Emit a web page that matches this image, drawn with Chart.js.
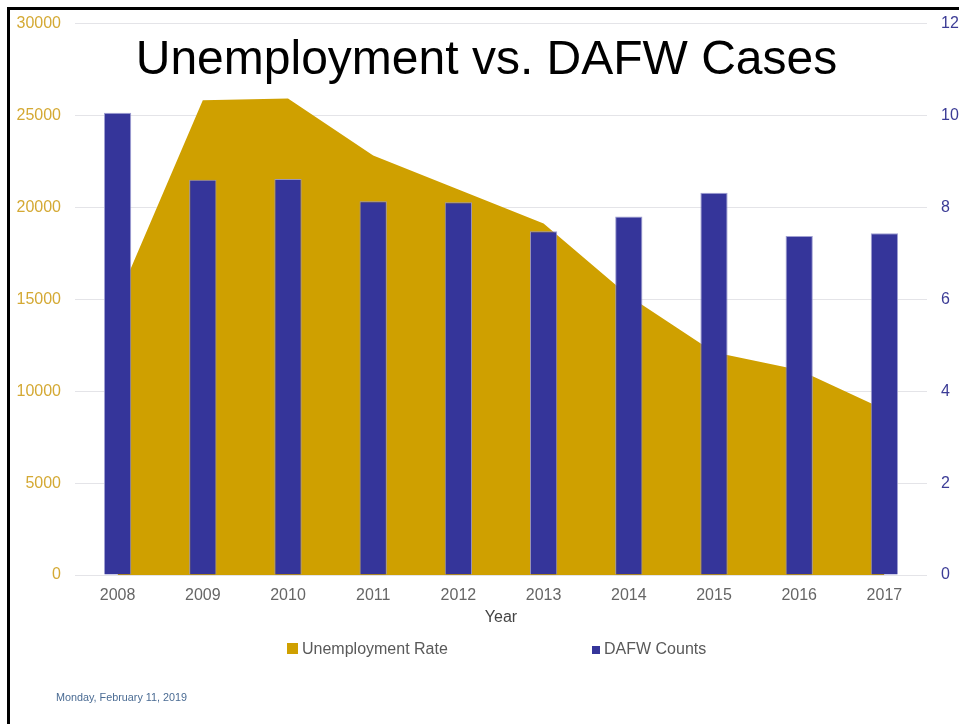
<!DOCTYPE html>
<html>
<head>
<meta charset="utf-8">
<script src="https://cdn.jsdelivr.net/npm/chart.js@4.4.1/dist/chart.umd.min.js"></script>
<style>
  html, body { margin: 0; padding: 0; background: #fff; overflow: hidden; }
  #wrap { position: relative; width: 959px; height: 724px; font-family: "Liberation Sans", Arial, sans-serif; }
  #chart-box { position: absolute; left: 0; top: 0; width: 959px; height: 724px; }
  #frame { position: absolute; left: 7px; top: 7px; width: 1000px; height: 1000px;
           border-left: 3px solid #000; border-top: 3px solid #000; }
  #title { position: absolute; left: 0; top: 34px; width: 973px; text-align: center;
           font-size: 48px; line-height: 48px; color: #000; }
  #date { position: absolute; left: 56px; top: 692px; font-size: 10.8px; line-height: 10.8px; color: #4a6b93; }
  .legend-item { position: absolute; top: 641px; font-size: 16px; line-height: 16px; color: #595959; white-space: nowrap; }
  .legend-box { position: absolute; }
</style>
</head>
<body>
<div id="wrap">
  <div id="chart-box"><canvas id="chart"></canvas></div>
  <div id="frame"></div>
  <div id="title">Unemployment vs. DAFW Cases</div>
  <div id="legend"></div>
  <div id="date">Monday, February 11, 2019</div>
</div>
<script>
// Données
const years = ['2008', '2009', '2010', '2011', '2012', '2013', '2014', '2015', '2016', '2017'];
const unemploymentRate = [6.0, 10.33, 10.37, 9.13, 8.39, 7.65, 6.07, 4.85, 4.46, 3.6];
const dafwCounts = [25150, 21500, 21550, 20330, 20280, 18700, 19500, 20800, 18450, 18600];

// Axes
const countsMax = 30000;
const countsStep = 5000;
const rateMax = 12;
const rateStep = 2;

const gold = '#cfa000';
const navy = '#35359a';

const ctx = document.getElementById('chart').getContext('2d');
const chart = new Chart(ctx, {
    type: 'bar',
    data: {
        labels: years,
        datasets: [{
            type: 'line',
            label: 'Unemployment Rate',
            data: unemploymentRate,
            yAxisID: 'y1',
            backgroundColor: gold,
            borderColor: gold,
            borderWidth: 0,
            pointRadius: 0,
            tension: 0,
            fill: 'origin',
            order: 2
        }, {
            label: 'DAFW Counts',
            data: dafwCounts,
            yAxisID: 'y',
            backgroundColor: navy,
            borderColor: 'rgba(150, 150, 205, 0.9)',
            borderWidth: 1,
            barPercentage: 0.32,
            categoryPercentage: 1.0,
            order: 1
        }]
    },
    options: {
        responsive: true,
        maintainAspectRatio: false,
        animation: false,
        layout: {
            padding: { left: 17, right: 0, top: 23, bottom: 97 }
        },
        scales: {
            x: {
                grid: { display: false, drawTicks: false },
                border: { display: false },
                ticks: {
                    color: '#666666',
                    font: { family: 'Liberation Sans', size: 16 },
                    padding: 11
                },
                title: {
                    display: true,
                    text: 'Year',
                    color: '#444444',
                    font: { family: 'Liberation Sans', size: 16 },
                    padding: { top: 4, bottom: 0 }
                },
                afterFit: scale => { scale.height = 52; }
            },
            y: {
                position: 'left',
                min: 0,
                max: countsMax,
                grid: { color: '#e4e4e8', drawTicks: false },
                border: { display: false },
                ticks: {
                    stepSize: countsStep,
                    color: '#d4a934',
                    font: { family: 'Liberation Sans', size: 16 },
                    padding: 14,
                    callback: v => String(v)
                },
                afterFit: scale => { scale.width = 58; }
            },
            y1: {
                position: 'right',
                min: 0,
                max: rateMax,
                grid: { drawOnChartArea: false, drawTicks: false },
                border: { display: false },
                ticks: {
                    stepSize: rateStep,
                    color: '#3c3c96',
                    font: { family: 'Liberation Sans', size: 16 },
                    padding: 14,
                    callback: v => String(v)
                },
                afterFit: scale => { scale.width = 32; }
            }
        },
        plugins: {
            legend: { display: false },
            tooltip: { enabled: false }
        }
    }
});

// Légende en HTML (espacement large comme l'original)
const legendEl = document.getElementById('legend');
const legendPos = [
    { x: 287, box: 11, boxTop: 643 },
    { x: 592, box: 8, boxTop: 646 }
];
chart.data.datasets.forEach((ds, i) => {
    const p = legendPos[i];
    const box = document.createElement('div');
    box.className = 'legend-box';
    box.style.left = p.x + 'px';
    box.style.top = p.boxTop + 'px';
    box.style.width = p.box + 'px';
    box.style.height = p.box + 'px';
    box.style.background = ds.backgroundColor;
    legendEl.appendChild(box);

    const item = document.createElement('div');
    item.className = 'legend-item';
    item.style.left = (p.x + p.box + 4) + 'px';
    item.textContent = ds.label;
    legendEl.appendChild(item);
});
</script>
</body>
</html>
